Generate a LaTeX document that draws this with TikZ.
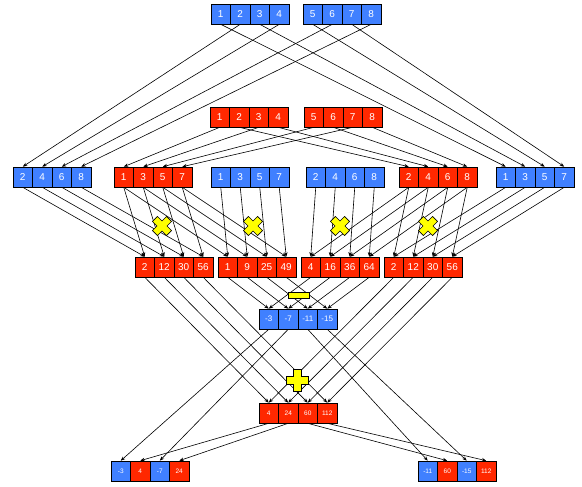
\documentclass[tikz,border=0pt]{standalone}
\usepackage{fontspec}
\setmainfont{Liberation Sans}
\usetikzlibrary{shadows,arrows.meta}
\definecolor{cblue}{RGB}{64,128,255}
\definecolor{cred}{RGB}{255,40,0}
\definecolor{cyel}{RGB}{255,255,0}
\tikzset{
 cell/.style={draw=black,line width=0.6pt,minimum width=19.5pt,minimum height=20pt,inner sep=0pt,text=white,font=\fontsize{10}{12}\selectfont,drop shadow={shadow xshift=1.3pt,shadow yshift=-1.3pt,opacity=0.55}},
 bcell/.style={cell,fill=cblue},
 rcell/.style={cell,fill=cred},
 smallf/.style={font=\fontsize{8}{10}\selectfont},
 tinyf/.style={font=\fontsize{6.5}{8}\selectfont},
 link/.style={draw=black,line width=0.6pt,-{Stealth[length=4.5pt,width=3.5pt]}},
 symb/.style={draw=black,line width=0.6pt,fill=cyel},
}
\newcommand\cellrow[5]{\foreach \v [count=\i] in {#5} {\node[#4] (#1\i) at ({#2+(\i-0.5)*19.5},{#3+10}) {\v};}}
\begin{document}
\begin{tikzpicture}[x=1pt,y=-1pt]
\useasboundingbox (0,0) rectangle (582,487);
% top rows
\cellrow{tbA}{211}{4}{bcell}{1,2,3,4}
\cellrow{tbB}{303}{4}{bcell}{5,6,7,8}
\cellrow{trA}{210}{107}{rcell}{1,2,3,4}
\cellrow{trB}{304}{107}{rcell}{5,6,7,8}
% row 3
\cellrow{L}{13}{167}{bcell}{2,4,6,8}
\cellrow{ro}{114}{167}{rcell}{1,3,5,7}
\cellrow{mo}{211}{167}{bcell}{1,3,5,7}
\cellrow{me}{306}{167}{bcell}{2,4,6,8}
\cellrow{re}{399}{167}{rcell}{2,4,6,8}
\cellrow{R}{496}{167}{bcell}{1,3,5,7}
% products
\cellrow{pa}{135}{257}{rcell}{2,12,30,56}
\cellrow{pb}{218}{257}{rcell}{1,9,25,49}
\cellrow{pc}{301}{257}{rcell}{4,16,36,64}
\cellrow{pd}{384}{257}{rcell}{2,12,30,56}
% diff and sum
\cellrow{d}{259}{309}{bcell,smallf}{-3,-7,-11,-15}
\cellrow{s}{259}{403}{rcell,tinyf}{4,24,60,112}
% bottom
\node[bcell,tinyf] (bl1) at ({111+0.5*19.5},471) {-3};
\node[rcell,tinyf] (bl2) at ({111+1.5*19.5},471) {4};
\node[bcell,tinyf] (bl3) at ({111+2.5*19.5},471) {-7};
\node[rcell,tinyf] (bl4) at ({111+3.5*19.5},471) {24};
\node[bcell,tinyf] (br1) at ({418+0.5*19.5},471) {-11};
\node[rcell,tinyf] (br2) at ({418+1.5*19.5},471) {60};
\node[bcell,tinyf] (br3) at ({418+2.5*19.5},471) {-15};
\node[rcell,tinyf] (br4) at ({418+3.5*19.5},471) {112};
% links top
\foreach \s/\t in {tbA2/L1,tbA4/L2,tbB2/L3,tbB4/L4,tbA1/R1,tbA3/R2,tbB1/R3,tbB3/R4,
  trA1/ro1,trA3/ro2,trB1/ro3,trB3/ro4,trA2/re1,trA4/re2,trB2/re3,trB4/re4}
  \draw[link] (\s.south) -- (\t.north);
% products
\foreach \i in {1,...,4} {
  \draw[link] (L\i.south) -- (pa\i.north);
  \draw[link] (ro\i.south) -- (pa\i.north);
  \draw[link] (ro\i.south) -- (pb\i.north);
  \draw[link] (mo\i.south) -- (pb\i.north);
  \draw[link] (me\i.south) -- (pc\i.north);
  \draw[link] (re\i.south) -- (pc\i.north);
  \draw[link] (re\i.south) -- (pd\i.north);
  \draw[link] (R\i.south) -- (pd\i.north);
  \draw[link] (pb\i.south) -- (d\i.north);
  \draw[link] (pc\i.south) -- (d\i.north);
  \draw[link] (pa\i.south) -- (s\i.north);
  \draw[link] (pd\i.south) -- (s\i.north);
}
\foreach \s/\t in {d1/bl1,d2/bl3,d3/br1,d4/br3,s1/bl2,s2/bl4,s3/br2,s4/br4}
  \draw[link] (\s.south) -- (\t.north);
% symbols
\foreach \cx in {162,253,340,428}
  \draw[symb,shift={(\cx,226)},rotate=45]
   (-3.5,-10) -- (3.5,-10) -- (3.5,-3.5) -- (10,-3.5) -- (10,3.5) -- (3.5,3.5) -- (3.5,10)
   -- (-3.5,10) -- (-3.5,3.5) -- (-10,3.5) -- (-10,-3.5) -- (-3.5,-3.5) -- cycle;
\draw[symb] (288,292) rectangle (309,298);
\draw[symb,shift={(297,380)}]
   (-4,-11) -- (4,-11) -- (4,-4) -- (11,-4) -- (11,4) -- (4,4) -- (4,11)
   -- (-4,11) -- (-4,4) -- (-11,4) -- (-11,-4) -- (-4,-4) -- cycle;
\end{tikzpicture}
\end{document}
